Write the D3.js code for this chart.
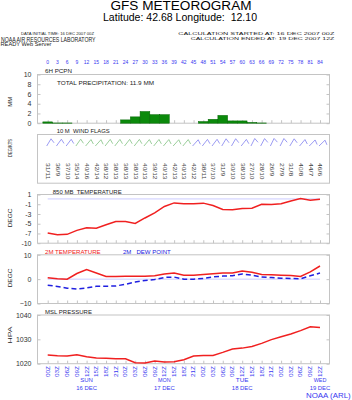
<!DOCTYPE html>
<html>
<head>
<meta charset="utf-8">
<script src="https://cdn.jsdelivr.net/npm/d3@7"></script>
<style>
body{margin:0;background:#fff;}
svg{display:block;font-family:"Liberation Sans",Arial,Helvetica,sans-serif;}
text{white-space:pre;}
</style>
</head>
<body>
<svg id="chart" width="352" height="400"></svg>
<script>
// forecast hours (every 3h from 16 DEC 2007 00Z)
const hours=[0,3,6,9,12,15,18,21,24,27,30,33,36,39,42,45,48,51,54,57,60,63,66,69,72,75,78,81,84];
const hourLabels=["00Z","03Z","06Z","09Z","12Z","15Z","18Z","21Z","00Z","03Z","06Z","09Z","12Z","15Z","18Z","21Z","00Z","03Z","06Z","09Z","12Z","15Z","18Z","21Z","00Z","03Z","06Z","09Z","12Z"];
const dayHours=[12,36,60,84];
const dayNames=["SUN","MON","TUE","WED"];
const dayDates=["16 DEC","17 DEC","18 DEC","19 DEC"];

// 6h precipitation (mm)
const pcpn=[0.27,0.05,0.05,0,0,0,0,0,0.68,1.3,2.4,1.75,1.75,0,0,0,0.34,0.8,1.6,0.47,0.47,0.15,0.05,0,0,0,0,0,0];
// 10m wind: direction (deg) / speed (kts), flag class
const windDir=[31,36,37,35,40,42,38,38,38,38,40,39,40,42,40,42,38,37,31,30,38,27,28,26,27,31,40,44,46];
const windSpd=[11,9,10,14,16,14,12,13,13,13,13,12,13,13,13,12,11,10,9,10,10,10,10,9,9,8,8,7,6];
const windClass=[0,0,0,1,1,1,1,1,1,1,1,1,1,1,1,0,0,0,0,0,0,0,0,0,0,0,0,0,0];
// temperatures (degC)
const t850=[-7.7,-8.1,-8.0,-7.1,-6.5,-6.6,-5.85,-5.1,-5.1,-5.55,-4.3,-3.15,-1.7,-0.9,-1.1,-1.1,-0.95,-1.5,-2.4,-2.45,-2.15,-2.1,-1.2,-1.25,-1.1,-0.45,0.1,-0.3,-0.05];
const t2m=[0.55,0.15,0.0,2.3,3.9,2.5,1.1,1.1,1.2,1.2,1.2,1.4,2.1,2.5,1.65,1.65,1.9,2.2,2.5,2.5,3.3,2.8,1.9,1.8,1.65,1.5,1.1,3.0,5.4];
const dew2m=[-2.5,-3.0,-3.7,-4.1,-3.6,-2.9,-2.9,-2.8,-2.1,-1.2,-0.55,-0.15,0.7,0.85,0,0,0.3,0.95,1.25,1.4,2.1,1.65,0.85,0.7,0.4,0.3,0.15,1.4,2.5];
// mean sea level pressure (hPa)
const msl=[1023.55,1023.3,1023.15,1023.7,1022.9,1022.3,1022.2,1022.05,1022.05,1020.4,1020.3,1021.1,1020.7,1020.8,1021.6,1023.15,1023.4,1023.4,1024.65,1026.0,1026.4,1027.1,1028.35,1029.9,1031.1,1032.2,1033.6,1035.2,1034.9];

// y tick values per panel
const pcpnTicks=[0,2,4,6,8,10];
const t850Ticks=[1,-1.2,-3.4,-5.6,-7.8,-10];
const t2mTicks=[10,0,-10];
const mslTicks=[1020,1030,1040];

const svg=d3.select("#chart");
const BLUE="#3838f0", GRID="#c4c4c4";
const x=d3.scaleLinear().domain([0,84]).range([47.7,320]);
const frameL=37.5, frameR=329.5, panelH=48.7;
const tops=[74.5,134.5,194.5,254.8,315];

function addText(str,px,py,size,len,anchor,color,rot){
    const t=svg.append("text")
      .attr("font-size",size)
      .attr("fill",color||"#222")
      .attr("text-anchor",anchor||"start")
      .text(str);
    if(rot) t.attr("transform","translate("+px+","+py+") rotate("+rot+")");
    else t.attr("x",px).attr("y",py);
    if(len) t.attr("textLength",len).attr("lengthAdjust","spacingAndGlyphs");
    return t;
}

// header
addText("GFS METEOROGRAM",181,9.5,12.5,141,"middle","#000");
addText("Latitude: 42.68 Longitude:  12.10",180,21,10.5,154,"middle","#000");
addText("DATA INITIAL TIME: 16 DEC 2007 00Z",21,34.9,4.3,73);
addText("NOAA AIR RESOURCES LABORATORY",1,41.5,6.3,94.5);
addText("READY Web Server",0.5,45.9,4.5,51);
addText("CALCULATION STARTED AT: 16 DEC 2007 00Z",334.3,34.9,4.3,156,"end");
addText("CALCULATION ENDED AT: 19 DEC 2007 12Z",334.3,39.9,4.3,143.6,"end");

// top hour numbers
svg.append("g").selectAll("text").data(hours).enter().append("text")
  .attr("x",d=>x(d)).attr("y",63.5)
  .attr("text-anchor","middle").attr("font-size",5).attr("fill",BLUE)
  .text(d=>d);

function frame(pt){
    svg.append("rect").attr("x",frameL).attr("y",pt)
      .attr("width",frameR-frameL).attr("height",panelH)
      .attr("fill","none").attr("stroke",GRID).attr("stroke-width",1);
}

function yAxes(y,ticks,fmt){
    const gl=svg.append("g").attr("transform","translate("+frameL+",0)")
      .call(d3.axisLeft(y).tickValues(ticks).tickSize(-3).tickPadding(6).tickFormat(fmt));
    const gr=svg.append("g").attr("transform","translate("+frameR+",0)")
      .call(d3.axisRight(y).tickValues(ticks).tickSize(-3).tickFormat(""));
    [gl,gr].forEach(g=>{
        g.select(".domain").remove();
        g.selectAll("line").attr("stroke",GRID);
        g.attr("font-family",null).attr("font-size",7);
        g.selectAll("text").attr("fill","#333");
    });
}

function xTicks(pt){
    const g=svg.append("g").attr("transform","translate(0,"+(pt+panelH)+")")
      .call(d3.axisBottom(x).tickValues(hours).tickSize(-3).tickFormat(""));
    g.select(".domain").remove();
    g.selectAll("line").attr("stroke",GRID);
    return g;
}

function zeroLine(y){
    svg.append("line").attr("x1",x(0)).attr("x2",x(84))
      .attr("y1",y(0)).attr("y2",y(0))
      .attr("stroke","#ccccff").attr("stroke-width",1);
}

function series(y,vals,color,dash){
    const line=d3.line().x((d,i)=>x(hours[i])).y(d=>y(d));
    const p=svg.append("path").datum(vals).attr("d",line)
      .attr("fill","none").attr("stroke",color).attr("stroke-width",1.5);
    if(dash) p.attr("stroke-dasharray",dash);
}

function yTitle(str,cy,size,len){
    addText(str,11.8,cy,size,len,"middle","#222",-90);
}

// ---- precipitation
let pTop=tops[0];
frame(pTop);
const yP=d3.scaleLinear().domain([0,10]).range([pTop+panelH,pTop]);
yAxes(yP,pcpnTicks,d3.format("d"));
xTicks(pTop);
svg.append("g").selectAll("rect").data(hours.filter((h,i)=>pcpn[i]>0)).enter().append("rect")
  .attr("x",d=>x(d-1.5))
  .attr("width",d=>x(d+1.5)-x(d-1.5))
  .attr("y",d=>yP(pcpn[hours.indexOf(d)]))
  .attr("height",d=>yP(0)-yP(pcpn[hours.indexOf(d)]))
  .attr("fill","#0b8a0b").attr("stroke","#006400").attr("stroke-width",0.5);
addText("6H PCPN",45,73,5.5,27);
addText("TOTAL PRECIPITATION: 11.9 MM",57,85,5.5,97);
yTitle("MM",101.7,6,10);

// ---- wind flags
pTop=tops[1];
frame(pTop);
addText("10 M  WIND FLAGS",56.7,133,5.5,53);
yTitle("DEG/KTS",148,4.5,18);
const flagColor=d3.scaleOrdinal().domain([0,1]).range(["#9090f0","#90c890"]);
const staffLen=8.4, barbLen=5;
hours.forEach((h,i)=>{
    const a=windDir[i]*Math.PI/180;
    const sx=x(h)-1, sy=pTop+11.5;
    const ux=Math.sin(a), uy=-Math.cos(a);
    const tx=sx+ux*staffLen, ty=sy+uy*staffLen;
    const b=112*Math.PI/180;
    const bx=ux*Math.cos(b)-uy*Math.sin(b), by=ux*Math.sin(b)+uy*Math.cos(b);
    svg.append("path")
      .attr("d","M"+sx+","+sy+"L"+tx+","+ty+"L"+(tx+bx*barbLen)+","+(ty+by*barbLen))
      .attr("fill","none").attr("stroke",flagColor(windClass[i])).attr("stroke-width",0.9);
    const lab=windDir[i]+"/"+windSpd[i];
    addText(lab,x(h)-1.6,163,4.5,lab.length*3.3,"start","#444",90);
});

// ---- 850 mb temperature
pTop=tops[2];
frame(pTop);
const y850=d3.scaleLinear().domain([-10,1]).range([pTop+panelH,pTop]);
yAxes(y850,t850Ticks,d=>String(Math.trunc(d)));
xTicks(pTop);
zeroLine(y850);
series(y850,t850,"#f02020");
addText("850 MB  TEMPERATURE",52.7,193.8,5.5,69);
yTitle("DEGC",218,6,18.7);

// ---- 2m temperature / dew point
pTop=tops[3];
frame(pTop);
const y2m=d3.scaleLinear().domain([-10,10]).range([pTop+panelH,pTop]);
yAxes(y2m,t2mTicks,d3.format("d"));
xTicks(pTop);
zeroLine(y2m);
series(y2m,t2m,"#f02020");
series(y2m,dew2m,"#2020e0","5,3");
addText("2M TEMPERATURE",45,254,5.5,55.7,"start","#f02020");
addText("2M   DEW POINT",123,254,5.5,47.7,"start","#2020e0");
yTitle("DEGC",278,6,18.7);

// ---- MSL pressure
pTop=tops[4];
frame(pTop);
const yM=d3.scaleLinear().domain([1020,1040]).range([pTop+panelH,pTop]);
yAxes(yM,mslTicks,d3.format("d"));
xTicks(pTop);
series(yM,msl,"#f02020");
addText("MSL PRESSURE",45,314,5.5,47);
yTitle("HPA",335,6,17);

// bottom time labels
svg.append("g").selectAll("text").data(hours).enter().append("text")
  .attr("transform",(d)=>"translate("+(x(d)+1.9)+",377) rotate(-90)")
  .attr("font-size",5).attr("fill",BLUE)
  .attr("textLength",11).attr("lengthAdjust","spacingAndGlyphs")
  .text((d,i)=>hourLabels[i]);

dayHours.forEach((h,i)=>{
    addText(dayNames[i],x(h),382.3,6,12.7,"middle",BLUE);
    addText(dayDates[i],x(h),390,6,20.7,"middle",BLUE);
});
addText("NOAA (ARL)",306,398.3,8,44.7,"start",BLUE);
</script>
</body>
</html>
